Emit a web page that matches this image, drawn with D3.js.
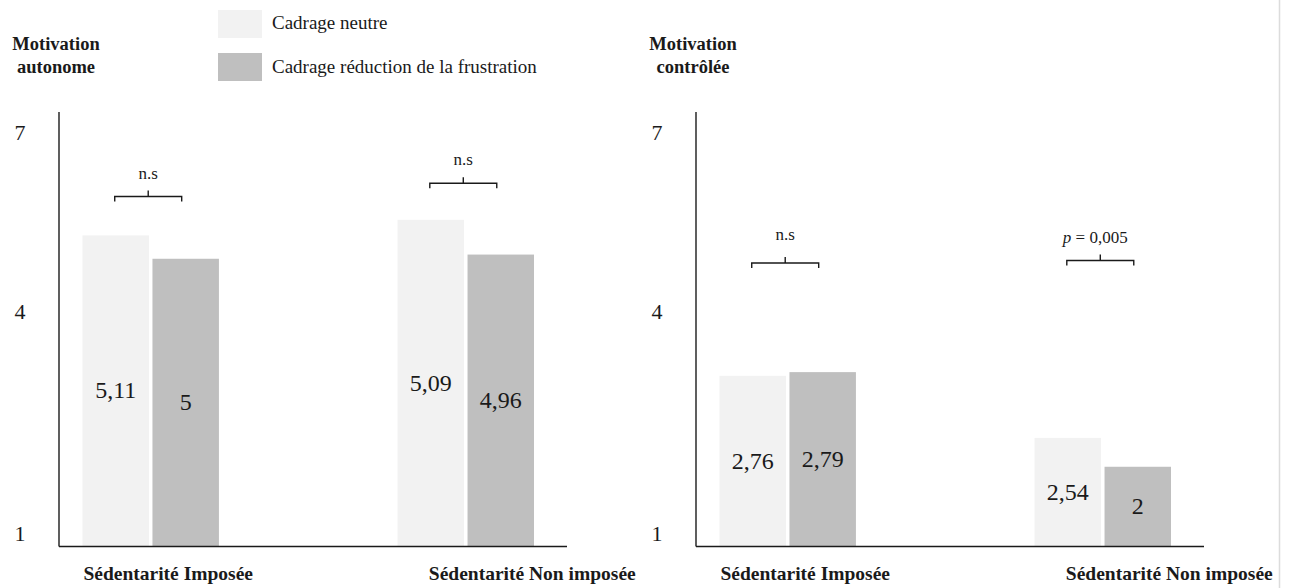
<!DOCTYPE html>
<html>
<head>
<meta charset="utf-8">
<script src="https://cdn.jsdelivr.net/npm/d3@7"></script>
<style>
  body { margin: 0; background: #fff; }
  svg { display: block; font-family: "Liberation Serif", "Times New Roman", serif; }
</style>
</head>
<body>
<script>
// categories / series
var GROUPS = ["Sédentarité Imposée", "Sédentarité Non imposée"];
var SERIES = ["Cadrage neutre", "Cadrage réduction de la frustration"];
var Y_TICKS = [1, 4, 7];
var TITLES = [["Motivation", "autonome"], ["Motivation", "contrôlée"]];

// bar heights as drawn (the figure does not draw them to scale with the labels)
var AUTONOME_BARS = [[5.27, 4.88], [5.53, 4.95]];
var CONTROLEE_BARS = [[3.13, 3.18], [2.29, 1.90]];
// printed values
var AUTONOME_LABELS = [["5,11", "5"], ["5,09", "4,96"]];
var CONTROLEE_LABELS = [["2,76", "2,79"], ["2,54", "2"]];
// comparison brackets: text, bracket level, text level
var AUTONOME_TESTS = ["n.s", "n.s"];
var CONTROLEE_TESTS = ["n.s", "p = 0,005"];
var AUTONOME_BRACKET = [5.92, 6.14];
var CONTROLEE_BRACKET = [4.81, 4.85];
var AUTONOME_TEST_Y = [6.21, 6.44];
var CONTROLEE_TEST_Y = [5.2, 5.15];

var COLORES = ["#f2f2f2", "#bfbfbf"];
var INK = "#1a1a1a";

var W = 1290, H = 588;
var panelW = 508;
var axisTop = 112, axisBottom = 546.5;

var svg = d3.select("body").append("svg").attr("width", W).attr("height", H);

// y: the tick labels of the figure are not evenly spaced
var y = d3.scaleLinear().domain([1, 4, 7]).range([533.3, 311.5, 131.7]);

var x0 = d3.scaleBand().domain(GROUPS).range([23.5, 475]).paddingInner(0.567).paddingOuter(0);
var x1 = d3.scaleBand().domain(SERIES).range([0, x0.bandwidth()]).paddingInner(0.05).paddingOuter(0);

// legend
var legend = svg.append("g").attr("transform", "translate(218,10)");
legend.selectAll("rect").data(SERIES).enter().append("rect")
  .attr("x", 0).attr("y", function (d, i) { return i * 43; })
  .attr("width", 44).attr("height", 28)
  .attr("fill", function (d, i) { return COLORES[i]; });
legend.selectAll("text").data(SERIES).enter().append("text")
  .attr("x", 54).attr("y", function (d, i) { return 19.3 + i * 43.4; })
  .attr("font-size", 19).attr("fill", INK)
  .text(function (d) { return d; });

function panel(ox, title, bars, labels, tests, bracketLv, testLv, labelShift) {
  var g = svg.append("g").attr("transform", "translate(" + ox + ",0)");

  // title
  g.selectAll(".title").data(title).enter().append("text")
    .attr("class", "title")
    .attr("x", -3).attr("y", function (d, i) { return 49.5 + i * 23.8; })
    .attr("text-anchor", "middle").attr("font-weight", "bold").attr("font-size", 18.5).attr("fill", INK)
    .text(function (d) { return d; });

  // y tick labels
  var ya = g.append("g").call(d3.axisLeft(y).tickValues(Y_TICKS).tickFormat(d3.format("d")).tickSize(0).tickPadding(33.5));
  ya.select(".domain").remove();
  ya.attr("font-family", null).attr("font-size", null);
  ya.selectAll("text").attr("font-size", 22).attr("fill", INK).attr("dy", "0.34em");

  // bars
  var grp = g.selectAll(".grp").data(GROUPS).enter().append("g")
    .attr("transform", function (d) { return "translate(" + x0(d) + ",0)"; });
  grp.selectAll("rect").data(function (d, gi) { return bars[gi]; }).enter().append("rect")
    .attr("x", function (d, i) { return x1(SERIES[i]); })
    .attr("width", x1.bandwidth())
    .attr("y", function (d) { return y(d); })
    .attr("height", function (d) { return axisBottom - y(d); })
    .attr("fill", function (d, i) { return COLORES[i]; });
  grp.selectAll(".val").data(function (d, gi) {
    return bars[gi].map(function (v, i) { return { v: v, t: labels[gi][i], i: i }; });
  }).enter().append("text")
    .attr("class", "val")
    .attr("x", function (d) { return x1(SERIES[d.i]) + x1.bandwidth() / 2; })
    .attr("y", function (d) { return (y(d.v) + axisBottom) / 2 - 1; })
    .attr("dy", "0.35em").attr("text-anchor", "middle").attr("font-size", 24).attr("fill", INK)
    .text(function (d) { return d.t; });

  // brackets
  grp.each(function (d, gi) {
    var s = d3.select(this);
    var xa = x1(SERIES[0]) + x1.bandwidth() / 2 - 1;
    var xb = x1(SERIES[1]) + x1.bandwidth() / 2 - 4;
    var yb = y(bracketLv[gi]);
    var xm = (xa + xb) / 2;
    s.append("path")
      .attr("d", "M" + xa + "," + (yb + 5) + "V" + yb + "H" + xb + "V" + (yb + 5) + "M" + xm + "," + yb + "V" + (yb - 6))
      .attr("fill", "none").attr("stroke", INK).attr("stroke-width", 1.4);
    var t = s.append("text").attr("x", xm - (tests[gi].indexOf("p") === 0 ? 5 : 0)).attr("y", y(testLv[gi]))
      .attr("text-anchor", "middle").attr("font-size", 17).attr("fill", INK);
    if (tests[gi].indexOf("p") === 0) {
      t.append("tspan").attr("font-style", "italic").text("p");
      t.append("tspan").text(tests[gi].slice(1));
    } else {
      t.text(tests[gi]);
    }
  });

  // axis lines
  g.append("line").attr("x1", 0).attr("x2", 0).attr("y1", axisTop).attr("y2", axisBottom)
    .attr("stroke", INK).attr("stroke-width", 1.4);
  g.append("line").attr("x1", 0).attr("x2", panelW).attr("y1", axisBottom).attr("y2", axisBottom)
    .attr("stroke", INK).attr("stroke-width", 1.4);

  // category labels
  g.selectAll(".cat").data(GROUPS).enter().append("text")
    .attr("class", "cat")
    .attr("x", function (d, i) { return x0(d) + x0.bandwidth() / 2 + labelShift[i]; })
    .attr("y", 580)
    .attr("text-anchor", "middle").attr("font-weight", "bold").attr("font-size", 19.5).attr("fill", INK)
    .text(function (d) { return d; });
}

panel(59, TITLES[0], AUTONOME_BARS, AUTONOME_LABELS, AUTONOME_TESTS, AUTONOME_BRACKET, AUTONOME_TEST_Y, [17.5, 66.5]);
panel(696, TITLES[1], CONTROLEE_BARS, CONTROLEE_LABELS, CONTROLEE_TESTS, CONTROLEE_BRACKET, CONTROLEE_TEST_Y, [17.5, 66.5]);

// page edge on the right
svg.append("line").attr("x1", 1279.5).attr("x2", 1279.5).attr("y1", 0).attr("y2", H)
  .attr("stroke", "#dcdcdc").attr("stroke-width", 1.5);
</script>
</body>
</html>
